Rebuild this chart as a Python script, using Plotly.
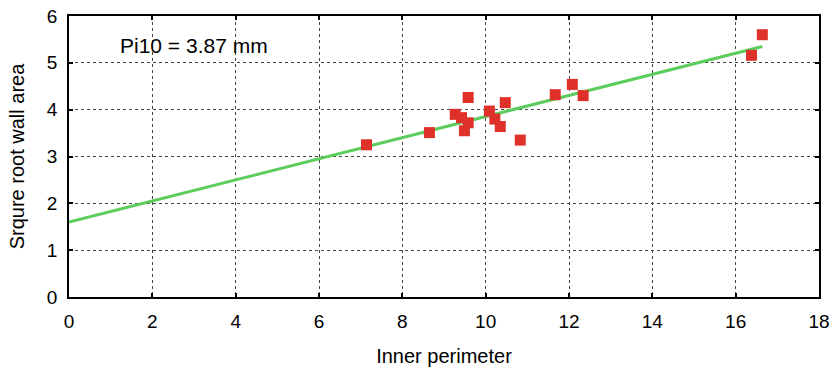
import plotly.graph_objects as go

# Data
inner_perimeter = [7.14, 8.65, 9.27, 9.42, 9.58, 9.58, 9.49, 10.09, 10.22, 10.35,
                   10.47, 10.83, 11.67, 12.08, 12.34, 16.38, 16.64]
sqrt_wall_area = [3.25, 3.51, 3.90, 3.83, 4.26, 3.72, 3.55, 3.97, 3.80, 3.64,
                  4.15, 3.35, 4.32, 4.54, 4.30, 5.16, 5.60]
fit_x = [0.0, 16.64]
fit_y = [1.60, 5.35]
x_ticks = [0, 2, 4, 6, 8, 10, 12, 14, 16, 18]
y_ticks = [0, 1, 2, 3, 4, 5, 6]

font_family = "Liberation Sans, Arial, sans-serif"

fig = go.Figure()
fig.add_trace(go.Scatter(x=fit_x, y=fit_y, mode="lines",
                         line=dict(color="#5ccc5c", width=3), showlegend=False))
fig.add_trace(go.Scatter(x=inner_perimeter, y=sqrt_wall_area, mode="markers",
                         marker=dict(symbol="square", size=11, color="#e0302a"),
                         showlegend=False))

axis_common = dict(
    showline=True, linecolor="black", linewidth=1.5, mirror="ticks",
    ticks="inside", ticklen=4, tickcolor="black", tickwidth=2,
    showgrid=True, gridcolor="#444444", gridwidth=1, griddash="3px,3px",
    zeroline=False, automargin=False,
    tickfont=dict(size=19, color="black", family=font_family),
)

fig.update_xaxes(range=[0, 18], tickvals=x_ticks, ticklabelstandoff=6, **axis_common,
                 title=dict(text="Inner perimeter", standoff=18,
                            font=dict(size=20, color="black", family=font_family)))
fig.update_yaxes(range=[0, 6], tickvals=y_ticks, ticklabelstandoff=6, **axis_common,
                 title=dict(text="Srqure root wall area", standoff=17,
                            font=dict(size=20, color="black", family=font_family)))

fig.add_annotation(x=1.18, y=5.38, text="Pi10 = 3.87 mm", showarrow=False,
                   xanchor="left", yanchor="middle",
                   font=dict(size=21, color="black", family=font_family))

fig.update_layout(width=831, height=375, margin=dict(l=69, r=12, t=16, b=78),
                  plot_bgcolor="white", paper_bgcolor="white")

fig.write_html("out.html", config={"displayModeBar": False},
               post_script="document.body.style.margin='0';document.body.style.overflow='hidden';")
